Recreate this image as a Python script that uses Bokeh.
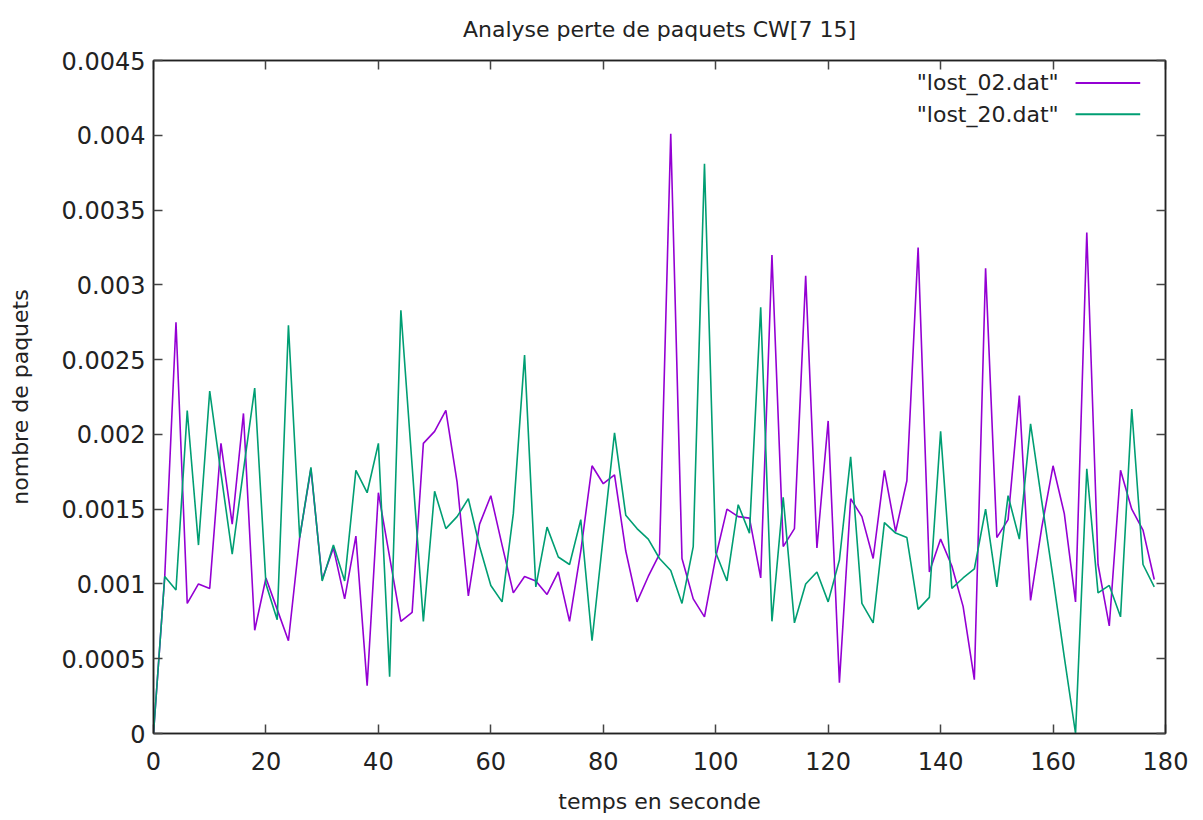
from bokeh.plotting import figure
from bokeh.models import (Range1d, FixedTicker, LinearAxis, Label, BoxAnnotation)
from bokeh.embed import file_html
from bokeh.resources import INLINE

# ---- data ----
temps = list(range(0, 180, 2))

lost_02 = [
    0.0, 0.00105, 0.00275, 0.00087, 0.00100, 0.00097, 0.00194, 0.00140, 0.00214, 0.00069,
    0.00104, 0.00083, 0.00062, 0.00131, 0.00177, 0.00103, 0.00124, 0.00090, 0.00132, 0.00032,
    0.00161, 0.00118, 0.00075, 0.00081, 0.00194, 0.00202, 0.00216, 0.00168, 0.00092, 0.00140,
    0.00159, 0.00126, 0.00094, 0.00105, 0.00102, 0.00093, 0.00108, 0.00075, 0.00122, 0.00179,
    0.00167, 0.00173, 0.00122, 0.00088, 0.00105, 0.00120, 0.00401, 0.00117, 0.00090, 0.00078,
    0.00118, 0.00150, 0.00145, 0.00144, 0.00104, 0.00320, 0.00125, 0.00137, 0.00306, 0.00124,
    0.00209, 0.00034, 0.00157, 0.00145, 0.00117, 0.00176, 0.00135, 0.00169, 0.00325, 0.00108,
    0.00130, 0.00112, 0.00085, 0.00036, 0.00311, 0.00131, 0.00143, 0.00226, 0.00089, 0.00138,
    0.00179, 0.00147, 0.00088, 0.00335, 0.00113, 0.00072, 0.00176, 0.00150, 0.00136, 0.00103,
]

lost_20 = [
    0.0, 0.00105, 0.00096, 0.00216, 0.00126, 0.00229, 0.00174, 0.00120, 0.00176, 0.00231,
    0.00100, 0.00076, 0.00273, 0.00131, 0.00178, 0.00102, 0.00126, 0.00102, 0.00176, 0.00161,
    0.00194, 0.00038, 0.00283, 0.00179, 0.00075, 0.00162, 0.00137, 0.00145, 0.00157, 0.00125,
    0.00099, 0.00088, 0.00147, 0.00253, 0.00098, 0.00138, 0.00118, 0.00113, 0.00143, 0.00062,
    0.00132, 0.00201, 0.00146, 0.00137, 0.00130, 0.00117, 0.00109, 0.00087, 0.00125, 0.00381,
    0.00121, 0.00102, 0.00153, 0.00134, 0.00285, 0.00075, 0.00158, 0.00074, 0.00100, 0.00108,
    0.00088, 0.00116, 0.00185, 0.00087, 0.00074, 0.00141, 0.00134, 0.00131, 0.00083, 0.00091,
    0.00202, 0.00097, 0.00104, 0.00110, 0.00150, 0.00098, 0.00159, 0.00130, 0.00207, 0.00155,
    0.00104, 0.00051, 0.0, 0.00177, 0.00094, 0.00099, 0.00078, 0.00217, 0.00113, 0.00098,
]

series_names = ['"lost_02.dat"', '"lost_20.dat"']
series_colors = ["#9400D3", "#009E73"]

x_ticks = [0, 20, 40, 60, 80, 100, 120, 140, 160, 180]
y_ticks = [0.0, 0.0005, 0.001, 0.0015, 0.002, 0.0025, 0.003, 0.0035, 0.004, 0.0045]
y_tick_labels = ["0", "0.0005", "0.001", "0.0015", "0.002", "0.0025",
                 "0.003", "0.0035", "0.004", "0.0045"]

title_text = "Analyse perte de paquets CW[7 15]"
x_label = "temps en seconde"
y_label = "nombre de paquets"

TICK_FONT = "DejaVu Sans"
TEXT_FONT = "DejaVu Sans"

p = figure(width=1203, height=820, output_backend="svg", toolbar_location=None,
           x_range=Range1d(0, 180), y_range=Range1d(0, 0.0045),
           min_border_left=153, min_border_right=38, min_border_top=60,
           min_border_bottom=87, title=title_text)

p.title.align = "center"
p.title.vertical_align = "top"
p.title.text_font = TEXT_FONT
p.title.text_font_size = "22px"
p.title.text_font_style = "normal"
p.title.text_color = "#222222"
p.title.standoff = 33

p.background_fill_color = "white"
p.border_fill_color = "white"
p.outline_line_color = "#222222"
p.outline_line_width = 1.5
p.xgrid.visible = False
p.ygrid.visible = False

overrides = {v: s for v, s in zip(y_ticks, y_tick_labels)}

def style_axis(ax, labels=True):
    ax.major_tick_in = 9
    ax.major_tick_out = 0
    ax.minor_tick_line_color = None
    ax.axis_line_color = "#222222"
    ax.axis_line_width = 1.5
    ax.major_tick_line_color = "#444444"
    ax.major_tick_line_width = 1.5
    ax.major_label_text_font = TICK_FONT
    ax.major_label_text_font_size = "24px" if labels else "0px"
    ax.major_label_text_color = "#222222" if labels else None
    ax.axis_label_text_font = TEXT_FONT
    ax.axis_label_text_font_size = "22px"
    ax.axis_label_text_font_style = "normal"
    ax.axis_label_text_color = "#222222"

p.xaxis.ticker = FixedTicker(ticks=x_ticks)
p.yaxis.ticker = FixedTicker(ticks=y_ticks)
p.yaxis.major_label_overrides = overrides
style_axis(p.xaxis[0])
style_axis(p.yaxis[0])
p.xaxis.axis_label = x_label
p.yaxis.axis_label = y_label
p.xaxis.major_label_standoff = 18
p.yaxis.major_label_standoff = 8
p.xaxis.axis_label_standoff = 16
p.yaxis.axis_label_standoff = 26

# mirrored ticks on top and right (gnuplot style)
top_ax = LinearAxis(ticker=FixedTicker(ticks=x_ticks), major_label_standoff=0)
style_axis(top_ax, labels=False)
p.add_layout(top_ax, "above")
right_ax = LinearAxis(ticker=FixedTicker(ticks=y_ticks), major_label_standoff=0)
style_axis(right_ax, labels=False)
p.add_layout(right_ax, "right")

# data lines
for ys, col in zip([lost_02, lost_20], series_colors):
    p.line(temps, ys, line_color=col, line_width=1.6)

# gnuplot-like legend: right-aligned text, sample line to the right
leg_y = [0.00435, 0.00414]
for name, col, yy in zip(series_names, series_colors, leg_y):
    p.add_layout(Label(x=161, y=yy, text=name, text_align="right",
                       text_baseline="middle", text_font=TEXT_FONT,
                       text_font_size="22px", text_color="#222222"))
    p.add_layout(BoxAnnotation(left=164, right=175.5, bottom=yy - 0.0000065,
                               top=yy + 0.0000065, fill_color=col, fill_alpha=1,
                               line_color=None))

open("out.html", "w").write(file_html(p, INLINE))
